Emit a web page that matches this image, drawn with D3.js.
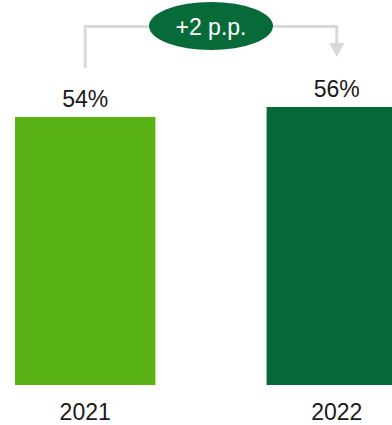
<!DOCTYPE html>
<html>
<head>
<meta charset="utf-8">
<script src="https://cdn.jsdelivr.net/npm/d3@7"></script>
<style>
  html, body { margin: 0; padding: 0; background: #fff; }
  svg { display: block; font-family: "Liberation Sans", Arial, sans-serif; }
</style>
</head>
<body>
<svg width="392" height="425"></svg>
<script>
// data
var years  = ["2021", "2022"];
var values = [54, 56];
var colors = ["#58b216", "#056a37"];
var changeLabel = "+2 p.p.";

var svg    = d3.select("svg"),
    width  = +svg.attr("width"),
    height = +svg.attr("height");

var data = years.map(function(y, i) { return {year: y, v: values[i], c: colors[i]}; });

// scales
var xScale = d3.scaleBand()
  .domain(years)
  .range([15, 407])
  .paddingInner(0.442)
  .paddingOuter(0);

var yScale = d3.scaleLinear()
  .domain([0, 56])
  .range([385, 107]);

var bw = xScale.bandwidth();

// bars
svg.selectAll("rect.bar").data(data).enter().append("rect")
  .attr("class", "bar")
  .attr("x", function(d) { return xScale(d.year); })
  .attr("y", function(d) { return yScale(d.v); })
  .attr("width", bw)
  .attr("height", function(d) { return yScale(0) - yScale(d.v); })
  .attr("fill", function(d) { return d.c; });

// value labels
svg.selectAll("text.val").data(data).enter().append("text")
  .attr("class", "val")
  .attr("x", function(d) { return xScale(d.year) + bw / 2; })
  .attr("y", function(d) { return yScale(d.v) - 10; })
  .attr("text-anchor", "middle")
  .attr("font-size", 23)
  .attr("fill", "#1a1a1a")
  .text(function(d) { return d.v + "%"; });

// x axis labels
var xAxis = d3.axisBottom(xScale).tickSize(0).tickPadding(0);
var gX = svg.append("g")
  .attr("transform", "translate(0," + 420 + ")")
  .call(xAxis);
gX.select(".domain").remove();
gX.selectAll("text")
  .attr("dy", 0)
  .attr("font-size", 23)
  .attr("font-family", "Liberation Sans, Arial, sans-serif")
  .attr("fill", "#1a1a1a");

// change annotation
var x1 = xScale(years[0]) + bw / 2,
    x2 = xScale(years[1]) + bw / 2,
    yTop = 26.5,
    y1 = yScale(values[0]) - 49,
    tip = yScale(values[1]) - 50;

svg.append("path")
  .attr("d", "M" + x1 + "," + y1 + "V" + yTop + "H" + x2 + "V" + (tip - 12))
  .attr("fill", "none")
  .attr("stroke", "#d9d9d9")
  .attr("stroke-width", 3);

svg.append("path")
  .attr("d", "M" + (x2 - 7.5) + "," + (tip - 14) + "L" + (x2 + 7.5) + "," + (tip - 14) + "L" + x2 + "," + tip + "Z")
  .attr("fill", "#d9d9d9");

var cx = (x1 + x2) / 2;
svg.append("ellipse")
  .attr("cx", cx)
  .attr("cy", 26)
  .attr("rx", 62)
  .attr("ry", 24)
  .attr("fill", "#066b38");

svg.append("text")
  .attr("x", cx)
  .attr("y", 34.5)
  .attr("text-anchor", "middle")
  .attr("font-size", 23)
  .attr("fill", "#fff")
  .text(changeLabel);
</script>
</body>
</html>
